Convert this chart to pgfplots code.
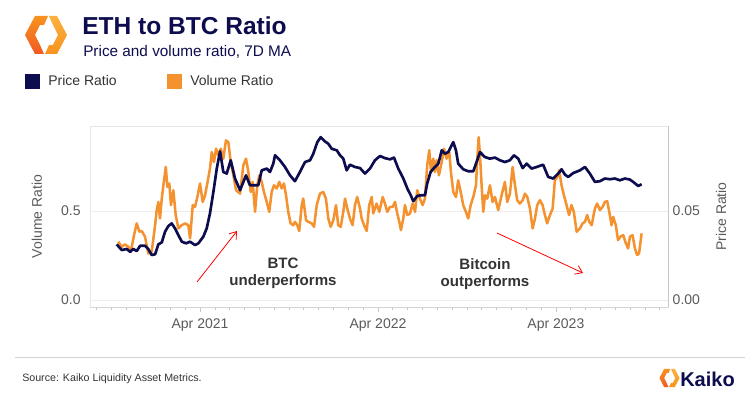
\documentclass[border=0pt]{standalone}
\usepackage{pgfplots}
\pgfplotsset{compat=1.18}
\usetikzlibrary{arrows.meta}
\usepackage{fontspec}
\setmainfont{Liberation Sans}
\definecolor{navy}{HTML}{0C0C4E}
\definecolor{orng}{HTML}{F4922F}
\definecolor{txt}{HTML}{333333}
\definecolor{tickc}{HTML}{5A5A5A}
\definecolor{logoA}{HTML}{F15A24}
\definecolor{logoB}{HTML}{FBB040}
\definecolor{logoC}{HTML}{F7931E}
\newcommand\kaikologo{%
  \shade[top color=logoC, bottom color=logoA] (48,16) -- (35,16) -- (25,35) -- (35,54) -- (44,54) -- (40,45) -- (35,35) -- (40,25) -- (44,25) -- cycle;
  \shade[top color=logoB, bottom color=logoC] (45,54) -- (57,54) -- (67,35) -- (57,16) -- (49,16) -- (53,25) -- (58,35) -- (53,45) -- (49,45) -- cycle;}
\begin{document}
\begin{tikzpicture}
\path[use as bounding box] (0,0) rectangle (567pt,-299.25pt);
\begin{scope}[x=0.75pt,y=-0.75pt]
  \kaikologo
  \node[anchor=base west, inner sep=0, text=navy, font=\fontsize{18.4pt}{22pt}\selectfont\bfseries] at (82,35) {ETH to BTC Ratio};
  \node[anchor=base west, inner sep=0, text=navy, font=\fontsize{11.5pt}{14pt}\selectfont] at (83,56.5) {Price and volume ratio, 7D MA};
  \fill[navy] (25,74) rectangle (40,89);
  \node[anchor=base west, inner sep=0, text=txt, font=\fontsize{10.5pt}{12pt}\selectfont] at (48,86) {Price Ratio};
  \fill[orng] (167,74) rectangle (182,89);
  \node[anchor=base west, inner sep=0, text=txt, font=\fontsize{10.5pt}{12pt}\selectfont] at (190,86) {Volume Ratio};
  % annotations
  \node[anchor=base, inner sep=0, text=txt, font=\fontsize{11.3pt}{13pt}\selectfont\bfseries] at (283,268) {BTC};
  \node[anchor=base, inner sep=0, text=txt, font=\fontsize{11.3pt}{13pt}\selectfont\bfseries] at (283,285) {underperforms};
  \node[anchor=base, inner sep=0, text=txt, font=\fontsize{11.3pt}{13pt}\selectfont\bfseries] at (485,269) {Bitcoin};
  \node[anchor=base, inner sep=0, text=txt, font=\fontsize{11.3pt}{13pt}\selectfont\bfseries] at (485,286) {outperforms};
  \draw[red, line width=0.6pt, -{Straight Barb[length=5pt,width=7pt]}] (197,282) -- (237,231);
  \draw[red, line width=0.6pt, -{Straight Barb[length=5pt,width=7pt]}] (497,233) -- (583,273);
  % footer
  \draw[gray!35, line width=0.6pt] (15,357) -- (745,357);
  \node[anchor=base west, inner sep=0, text=txt, font=\fontsize{8pt}{10pt}\selectfont] at (22,381) {Source: Kaiko Liquidity Asset Metrics.};
  \begin{scope}[shift={(647.4,361.2)}, scale=0.48]
    \kaikologo
  \end{scope}
  \node[anchor=base west, inner sep=0, text=navy, font=\fontsize{15pt}{18pt}\selectfont\bfseries] at (680,386) {Kaiko};
\end{scope}

\begin{axis}[
  at={(67.5pt,-94.5pt)}, anchor=north west,
  scale only axis, width=433.5pt, height=135.75pt,
  xmin=-4.42, xmax=34.56, ymin=-0.04, ymax=0.98,
  axis line style={draw=gray!18},
  xtick={3,15,27}, xticklabels={Apr 2021,Apr 2022,Apr 2023},
  minor xtick={-4,-3,...,34},
  xtick pos=left, ytick pos=left,
  tick align=outside,
  major tick length=3.5pt, minor tick length=2pt,
  x tick style={draw=gray!45, line width=0.5pt},
  ytick={0,0.5}, yticklabels={0.0,0.5},
  y tick style={draw=none},
  ymajorgrids, grid style={draw=gray!14, line width=0.6pt},
  tick label style={text=tickc, font=\fontsize{10.5pt}{12pt}\selectfont},
  x tick label style={yshift=-2pt},
  /pgf/number format/assume math mode=true,
  ylabel={Volume Ratio},
  ylabel style={at={(axis description cs:-0.0917,0.5)}, anchor=center, text=tickc, font=\fontsize{10.5pt}{12pt}\selectfont},
  clip=false,
]
\addplot[orng, line width=1.9pt, line join=round, mark=none] coordinates {
(-2.51,0.328)(-2.28,0.299)(-2.06,0.313)(-1.83,0.299)(-1.67,0.271)(-1.45,0.365)(-1.27,0.431)(-1.09,0.384)(-0.93,0.388)(-0.71,0.356)(-0.49,0.262)(-0.26,0.271)(-0.03,0.421)(0.08,0.506)(0.19,0.552)(0.30,0.459)(0.42,0.571)(0.53,0.646)(0.69,0.749)(0.80,0.637)(0.93,0.656)(1.04,0.534)(1.20,0.618)(1.36,0.478)(1.54,0.403)(1.77,0.421)(1.99,0.431)(2.21,0.421)(2.33,0.347)(2.51,0.534)(2.66,0.524)(2.82,0.580)(3.00,0.656)(3.18,0.552)(3.34,0.590)(3.49,0.656)(3.67,0.740)(3.79,0.833)(3.94,0.777)(4.08,0.852)(4.23,0.815)(4.40,0.852)(4.57,0.796)(4.75,0.899)(4.91,0.889)(5.07,0.777)(5.25,0.702)(5.43,0.618)(5.70,0.599)(5.92,0.758)(6.10,0.796)(6.26,0.721)(6.42,0.608)(6.55,0.665)(6.71,0.496)(6.86,0.646)(7.00,0.702)(7.16,0.665)(7.31,0.608)(7.50,0.552)(7.67,0.496)(7.83,0.608)(7.99,0.646)(8.17,0.628)(8.35,0.665)(8.51,0.628)(8.66,0.656)(8.80,0.590)(8.95,0.496)(9.11,0.431)(9.29,0.421)(9.40,0.440)(9.56,0.421)(9.69,0.388)(9.86,0.534)(9.96,0.571)(10.15,0.449)(10.30,0.440)(10.53,0.431)(10.69,0.412)(10.87,0.534)(11.09,0.599)(11.31,0.608)(11.49,0.571)(11.65,0.459)(11.81,0.412)(11.99,0.449)(12.17,0.534)(12.32,0.421)(12.49,0.412)(12.66,0.496)(12.78,0.571)(12.93,0.515)(13.11,0.459)(13.29,0.421)(13.45,0.534)(13.60,0.580)(13.79,0.515)(13.90,0.459)(14.06,0.421)(14.24,0.388)(14.41,0.534)(14.58,0.580)(14.68,0.487)(14.91,0.543)(15.09,0.496)(15.32,0.580)(15.47,0.543)(15.63,0.496)(15.81,0.524)(15.99,0.524)(16.15,0.552)(16.30,0.487)(16.44,0.440)(16.55,0.393)(16.71,0.459)(16.82,0.534)(16.98,0.478)(17.16,0.487)(17.34,0.543)(17.50,0.496)(17.65,0.618)(17.83,0.571)(18.01,0.534)(18.17,0.571)(18.32,0.758)(18.46,0.843)(18.58,0.721)(18.73,0.796)(18.84,0.721)(18.96,0.787)(19.11,0.702)(19.30,0.777)(19.45,0.852)(19.63,0.796)(19.81,0.833)(19.92,0.721)(20.08,0.608)(20.26,0.580)(20.41,0.674)(20.58,0.608)(20.75,0.534)(20.93,0.496)(21.09,0.459)(21.25,0.534)(21.43,0.580)(21.61,0.646)(21.70,0.796)(21.79,0.917)(21.88,0.815)(21.99,0.646)(22.10,0.496)(22.22,0.590)(22.37,0.571)(22.55,0.646)(22.73,0.552)(22.89,0.580)(23.11,0.506)(23.34,0.590)(23.56,0.665)(23.72,0.552)(23.90,0.599)(24.08,0.749)(24.24,0.646)(24.39,0.562)(24.57,0.543)(24.76,0.562)(24.91,0.599)(25.07,0.580)(25.25,0.515)(25.43,0.403)(25.59,0.459)(25.74,0.534)(25.92,0.562)(26.10,0.534)(26.26,0.478)(26.41,0.431)(26.60,0.478)(26.78,0.515)(26.93,0.674)(27.09,0.693)(27.22,0.730)(27.38,0.646)(27.54,0.590)(27.72,0.534)(27.89,0.478)(28.05,0.534)(28.21,0.496)(28.40,0.384)(28.62,0.403)(28.80,0.431)(28.96,0.440)(29.11,0.478)(29.25,0.440)(29.41,0.421)(29.63,0.515)(29.78,0.543)(29.97,0.506)(30.15,0.524)(30.30,0.552)(30.46,0.556)(30.64,0.478)(30.75,0.421)(30.86,0.468)(31.04,0.421)(31.19,0.337)(31.35,0.356)(31.54,0.365)(31.72,0.319)(31.87,0.290)(31.99,0.356)(32.17,0.365)(32.33,0.290)(32.48,0.253)(32.61,0.262)(32.78,0.375)
};
\draw[gray!32, line width=0.6pt] (rel axis cs:0,0) -- (rel axis cs:1,0);
\end{axis}

\begin{axis}[
  at={(67.5pt,-94.5pt)}, anchor=north west,
  scale only axis, width=433.5pt, height=135.75pt,
  xmin=-4.42, xmax=34.56, ymin=-0.004, ymax=0.098,
  axis x line=none, axis y line*=right,
  y axis line style={draw=gray!45, line width=0.6pt},
  ytick={0,0.05}, yticklabels={0.00,0.05},
  scaled y ticks=false,
  y tick style={draw=none},
  tick label style={text=tickc, font=\fontsize{10.5pt}{12pt}\selectfont},
  /pgf/number format/assume math mode=true,
  ylabel={Price Ratio},
  ylabel style={at={(axis description cs:1.0917,0.5)}, anchor=center, rotate=0, text=tickc, font=\fontsize{10.5pt}{12pt}\selectfont},
]
\addplot[navy, line width=2pt, line join=round, mark=none] coordinates {
(-2.62,0.0313)(-2.28,0.0281)(-1.94,0.0287)(-1.72,0.0271)(-1.50,0.0287)(-1.27,0.0275)(-1.04,0.0305)(-0.71,0.0305)(-0.49,0.0287)(-0.26,0.0253)(-0.03,0.0257)(0.19,0.0313)(0.42,0.0324)(0.64,0.0384)(0.86,0.0416)(1.09,0.0431)(1.31,0.0403)(1.54,0.0365)(1.77,0.0328)(2.06,0.0319)(2.33,0.0328)(2.66,0.0309)(2.89,0.0319)(3.22,0.0356)(3.45,0.0403)(3.67,0.0487)(3.90,0.0608)(4.13,0.0740)(4.35,0.0837)(4.57,0.0721)(4.80,0.0712)(5.07,0.0787)(5.36,0.0684)(5.70,0.0618)(6.10,0.0702)(6.37,0.0646)(6.71,0.0646)(6.93,0.0646)(7.16,0.0730)(7.50,0.0740)(7.72,0.0721)(7.94,0.0768)(8.06,0.0815)(8.39,0.0787)(8.73,0.0749)(9.07,0.0702)(9.40,0.0669)(9.74,0.0721)(10.08,0.0777)(10.42,0.0787)(10.64,0.0824)(10.91,0.0889)(11.14,0.0917)(11.43,0.0893)(11.65,0.0880)(11.88,0.0852)(12.22,0.0843)(12.44,0.0815)(12.66,0.0796)(12.89,0.0730)(13.11,0.0762)(13.45,0.0749)(13.79,0.0743)(14.12,0.0712)(14.46,0.0740)(14.80,0.0787)(15.14,0.0811)(15.47,0.0799)(15.81,0.0792)(16.08,0.0802)(16.37,0.0740)(16.71,0.0684)(16.98,0.0628)(17.21,0.0590)(17.38,0.0556)(17.65,0.0586)(17.95,0.0590)(18.17,0.0590)(18.32,0.0656)(18.55,0.0721)(18.84,0.0749)(19.07,0.0768)(19.30,0.0843)(19.52,0.0824)(19.74,0.0833)(20.08,0.0889)(20.26,0.0843)(20.41,0.0768)(20.75,0.0736)(21.09,0.0725)(21.43,0.0725)(21.65,0.0777)(21.88,0.0833)(22.21,0.0805)(22.55,0.0796)(22.89,0.0802)(23.22,0.0787)(23.56,0.0777)(23.90,0.0787)(24.17,0.0815)(24.46,0.0796)(24.76,0.0743)(25.03,0.0768)(25.36,0.0740)(25.70,0.0749)(26.14,0.0762)(26.48,0.0693)(26.82,0.0684)(27.16,0.0712)(27.38,0.0736)(27.61,0.0706)(27.83,0.0693)(28.17,0.0715)(28.62,0.0730)(28.96,0.0749)(29.29,0.0712)(29.63,0.0665)(29.97,0.0669)(30.30,0.0684)(30.64,0.0680)(30.98,0.0684)(31.31,0.0674)(31.65,0.0684)(31.99,0.0678)(32.21,0.0665)(32.55,0.0642)(32.78,0.0652)
};
\end{axis}
\end{tikzpicture}
\end{document}
